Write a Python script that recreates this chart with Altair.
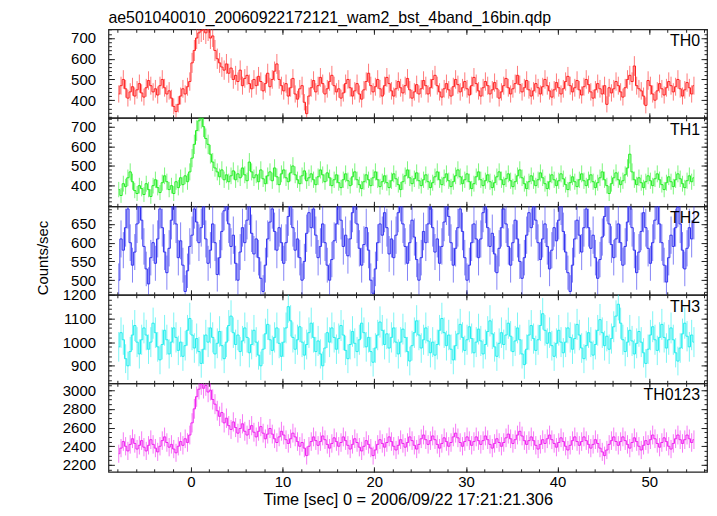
import altair as alt
import pandas as pd

TITLE = "ae501040010_20060922172121_wam2_bst_4band_16bin.qdp"
X_TITLE = "Time [sec] 0 = 2006/09/22 17:21:21.306"
Y_TITLE = "Counts/sec"
T_START = -8.0
BIN = 0.25
X_DOMAIN = [-9.0, 56.3]
X_MAJOR = [0, 10, 20, 30, 40, 50]
X_MINOR = list(range(-8, 57, 2))

NAMES = ["TH0", "TH1", "TH2", "TH3", "TH0123"]
COLORS = ["#ff2020", "#22ee22", "#3030f0", "#22eeee", "#f020f0"]
Y_DOMAINS = [[315, 742], [295, 745], [461, 697], [826, 1200], [2127, 3073]]
Y_MAJOR = [[400, 500, 600, 700], [400, 500, 600, 700], [500, 550, 600, 650],
           [900, 1000, 1100, 1200], [2200, 2400, 2600, 2800, 3000]]
Y_MINOR = [list(range(320, 741, 20)), list(range(300, 741, 20)), list(range(470, 691, 10)),
           list(range(840, 1201, 20)), list(range(2150, 3051, 50))]

TH0 = [
    430, 470, 500, 455, 410, 440, 465, 420, 450, 480, 435, 415,
    460, 495, 470, 440, 455, 425, 470, 500, 460, 430, 445, 410,
    370, 345, 380, 420, 455, 430, 465, 490, 580, 640, 700, 725,
    735, 745, 725, 740, 700, 710, 640, 600, 580, 560, 545, 575,
    530, 555, 500, 520, 490, 545, 470, 505, 520, 480, 455, 500,
    470, 515, 490, 445, 480, 530, 465, 500, 540, 575, 500, 470,
    445, 480, 420, 460, 505, 430, 405, 455, 470, 390, 335, 420,
    460, 495, 440, 470, 510, 480, 430, 455, 490, 520, 470, 440,
    455, 410, 435, 480, 500, 460, 420, 445, 480, 430, 405, 450,
    490, 530, 470, 440, 465, 500, 455, 420, 470, 510, 480, 445,
    420, 455, 490, 460, 435, 470, 505, 450, 410, 440, 475, 430,
    455, 495, 470, 430, 460, 500, 520, 470, 440, 415, 455, 480,
    450, 420, 465, 500, 475, 440, 460, 490, 455, 425, 470, 510,
    480, 445, 420, 460, 490, 470, 430, 450, 485, 455, 410, 440,
    470, 505, 460, 430, 455, 480, 520, 475, 440, 460, 495, 450,
    420, 445, 480, 460, 430, 465, 500, 470, 445, 415, 450, 485,
    460, 430, 455, 490, 515, 470, 440, 460, 495, 450, 425, 465,
    500, 475, 440, 410, 450, 480, 455, 430, 470, 380, 460, 435,
    455, 490, 470, 440, 415, 460, 500, 520, 490, 565, 470, 455,
    445, 420, 375, 495, 470, 430, 400, 445, 480, 455, 425, 460,
    490, 470, 440, 465, 500, 455, 420, 450, 485, 460, 430, 470,
]

TH1 = [
    380, 350, 410, 395, 440, 470, 420, 375, 360, 400, 385, 355,
    410, 380, 345, 400, 430, 390, 365, 415, 450, 420, 380, 400,
    360, 420, 390, 440, 405, 450, 420, 470, 540, 610, 680, 730,
    745, 700, 640, 610, 560, 520, 490, 470, 445, 480, 430, 455,
    420, 450, 475, 430, 460, 440, 490, 455, 425, 520, 470, 440,
    455, 420, 480, 435, 410, 450, 470, 425, 490, 445, 405, 460,
    480, 440, 420, 465, 500, 455, 430, 410, 450, 475, 425, 440,
    460, 430, 405, 445, 480, 455, 420, 465, 440, 400, 430, 455,
    415, 390, 430, 460, 425, 400, 445, 470, 430, 405, 385, 420,
    455, 430, 400, 440, 470, 430, 395, 420, 450, 415, 390, 425,
    460, 435, 405, 380, 420, 450, 480, 440, 410, 435, 465, 425,
    400, 430, 455, 420, 390, 415, 445, 470, 430, 405, 440, 460,
    425, 395, 420, 450, 480, 445, 410, 430, 460, 420, 385, 410,
    445, 470, 430, 400, 425, 455, 420, 390, 415, 445, 470, 430,
    405, 435, 460, 425, 395, 420, 450, 480, 440, 410, 385, 420,
    450, 425, 400, 430, 465, 440, 410, 385, 420, 455, 430, 400,
    425, 460, 435, 405, 380, 415, 445, 420, 395, 430, 460, 425,
    400, 430, 455, 420, 390, 415, 440, 470, 430, 400, 360, 410,
    440, 465, 430, 405, 425, 455, 490, 560, 470, 430, 405, 440,
    415, 390, 420, 450, 425, 400, 435, 460, 430, 405, 380, 415,
    445, 420, 395, 430, 460, 435, 410, 390, 425, 450, 420, 440,
]

TH2 = [
    500, 610, 580, 640, 690, 600, 540, 575, 650, 705, 660, 590,
    530, 490, 560, 600, 545, 610, 690, 640, 575, 520, 585, 660,
    700, 650, 560, 605, 540, 470, 525, 590, 620, 690, 655, 600,
    640, 700, 610, 545, 580, 650, 600, 515, 560, 630, 685, 710,
    650, 590, 620, 545, 500, 575, 640, 600, 660, 700, 625, 570,
    610, 560, 505, 470, 540, 610, 655, 690, 630, 580, 640, 600,
    545, 600, 670, 700, 640, 580, 610, 560, 500, 550, 625, 680,
    640, 690, 620, 560, 590, 650, 600, 540, 500, 555, 605, 650,
    700, 660, 590, 620, 565, 610, 680, 705, 650, 585, 540, 595,
    640, 580, 500, 465, 530, 600, 650, 620, 680, 640, 570, 610,
    560, 620, 680, 710, 650, 590, 545, 600, 660, 615, 555, 500,
    560, 630, 600, 650, 700, 640, 575, 610, 545, 590, 655, 700,
    670, 600, 540, 585, 640, 690, 630, 560, 500, 540, 600, 650,
    610, 560, 610, 680, 705, 640, 590, 625, 570, 520, 585, 640,
    690, 650, 590, 540, 600, 660, 610, 550, 505, 560, 620, 680,
    640, 700, 660, 600, 555, 610, 650, 590, 530, 580, 640, 605,
    660, 700, 630, 575, 520, 470, 540, 610, 660, 620, 575, 640,
    690, 640, 585, 620, 560, 505, 555, 615, 670, 710, 650, 595,
    560, 610, 650, 600, 540, 590, 655, 700, 640, 580, 520, 575,
    630, 680, 640, 585, 545, 600, 660, 700, 650, 600, 540, 495,
    560, 620, 590, 640, 695, 650, 580, 530, 585, 640, 610, 660,
]

TH3 = [
    980, 1040, 1010, 930, 900, 960, 1030, 1070, 1000, 950, 1010, 1060,
    1030, 970, 1000, 1080, 1040, 980, 925, 990, 1050, 1010, 950, 1000,
    1060, 1020, 965, 1000, 940, 985, 1050, 1100, 1030, 975, 1015, 960,
    910, 970, 1030, 1000, 1060, 1020, 950, 995, 1045, 985, 930, 1000,
    1070, 1110, 1040, 990, 1030, 960, 1005, 1060, 1020, 955, 990, 1050,
    1000, 945, 900, 970, 1035, 1075, 1010, 965, 1020, 1060, 995, 940,
    1000, 1060, 1150, 1090, 1020, 970, 1010, 1065, 1000, 945, 990, 1040,
    1080, 1020, 960, 1005, 950, 900, 975, 1040, 1000, 1060, 1020, 970,
    1015, 1070, 1030, 965, 930, 990, 1045, 995, 960, 1010, 1080, 1040,
    980, 1020, 960, 915, 975, 1030, 1085, 1050, 990, 1035, 975, 1020,
    1060, 1000, 950, 1000, 1055, 1020, 960, 920, 985, 1040, 1090, 1030,
    975, 1010, 1060, 1005, 955, 1000, 945, 990, 1050, 1100, 1040, 985,
    1030, 970, 925, 985, 1035, 1075, 1020, 965, 1010, 1065, 1015, 955,
    1000, 1055, 1005, 950, 990, 1045, 1090, 1035, 980, 940, 995, 1040,
    990, 1030, 1080, 1025, 960, 1005, 1060, 1010, 950, 905, 970, 1030,
    1070, 1015, 965, 1010, 1070, 1120, 1050, 995, 1040, 985, 940, 995,
    1050, 1000, 955, 1000, 1060, 1020, 970, 1015, 1075, 1030, 975, 930,
    985, 1040, 1000, 945, 990, 1050, 1095, 1040, 985, 1025, 970, 1015,
    1065, 1110, 1160, 1080, 1010, 960, 1000, 1050, 1005, 950, 995, 1045,
    1000, 955, 910, 970, 1030, 1065, 1010, 965, 1020, 1075, 1020, 975,
    1010, 1060, 1010, 955, 920, 975, 1035, 1080, 1025, 980, 1030, 1000,
]

TH0123 = [
    2320, 2380, 2450, 2400, 2350, 2420, 2480, 2430, 2370, 2410, 2460, 2390,
    2350, 2410, 2470, 2420, 2380, 2340, 2400, 2460, 2500, 2440, 2390, 2420,
    2370, 2330, 2400, 2450, 2410, 2480, 2440, 2520, 2650, 2800, 2930, 3010,
    3060, 3020, 3050, 2980, 3000, 2900, 2850, 2780, 2720, 2760, 2650, 2700,
    2620, 2580, 2660, 2600, 2540, 2590, 2640, 2560, 2520, 2580, 2620, 2550,
    2500, 2560, 2610, 2540, 2480, 2530, 2590, 2530, 2480, 2440, 2500, 2560,
    2520, 2470, 2430, 2480, 2540, 2500, 2450, 2400, 2440, 2380, 2300, 2400,
    2450, 2500, 2460, 2410, 2450, 2510, 2470, 2420, 2380, 2430, 2490, 2450,
    2400, 2440, 2500, 2460, 2410, 2370, 2420, 2480, 2440, 2390, 2350, 2400,
    2460, 2420, 2380, 2300, 2360, 2420, 2470, 2430, 2390, 2440, 2500, 2450,
    2400, 2360, 2410, 2470, 2430, 2390, 2440, 2500, 2460, 2410, 2370, 2420,
    2480, 2520, 2470, 2420, 2460, 2510, 2470, 2420, 2380, 2430, 2490, 2450,
    2400, 2440, 2500, 2540, 2490, 2440, 2400, 2450, 2500, 2460, 2410, 2450,
    2500, 2460, 2420, 2460, 2510, 2470, 2420, 2380, 2430, 2480, 2440, 2400,
    2440, 2490, 2530, 2480, 2430, 2470, 2520, 2560, 2510, 2460, 2420, 2460,
    2500, 2460, 2410, 2370, 2420, 2470, 2430, 2480, 2520, 2470, 2430, 2390,
    2440, 2490, 2450, 2400, 2360, 2410, 2460, 2500, 2450, 2410, 2450, 2500,
    2460, 2420, 2380, 2420, 2470, 2430, 2380, 2340, 2300, 2360, 2420, 2460,
    2500, 2450, 2410, 2450, 2500, 2460, 2420, 2380, 2440, 2490, 2450, 2400,
    2360, 2410, 2460, 2420, 2470, 2520, 2480, 2430, 2390, 2440, 2490, 2450,
    2400, 2370, 2430, 2480, 2520, 2470, 2430, 2470, 2520, 2480, 2440, 2470,
]

SERIES = [TH0, TH1, TH2, TH3, TH0123]

FONT = "Liberation Sans"
W = 602
H = 89


def ax(orient, values, size, labels=False, title=None, label_pad=13, title_pad=10,
       title_size=15, title_anchor=None):
    kw = dict(orient=orient, values=values, tickSize=size, offset=-size,
              domain=False, grid=False, labels=labels, ticks=True,
              tickColor="#222222", tickWidth=1, title=title, minExtent=0)
    if labels:
        kw.update(labelFont=FONT, labelFontSize=15, labelColor="black",
                  labelPadding=label_pad, format="d")
    if title:
        kw.update(titleFont=FONT, titleFontSize=title_size, titleFontWeight="normal",
                  titleColor="black", titlePadding=title_pad)
        if title_anchor:
            kw.update(titleAnchor=title_anchor)
    return alt.Axis(**kw)


def panel(i):
    vals = SERIES[i]
    df = pd.DataFrame({"t": [T_START + BIN * (k + 0.5) for k in range(len(vals))],
                       "v": vals})
    xs = alt.Scale(domain=X_DOMAIN, nice=False, zero=False)
    ys = alt.Scale(domain=Y_DOMAINS[i], nice=False, zero=False)
    last = i == len(NAMES) - 1
    color = COLORS[i]
    base = alt.Chart(df).transform_calculate(
        err="2*sqrt(datum.v)"
    ).transform_calculate(lo="datum.v - datum.err", hi="datum.v + datum.err")

    if last:
        x_major = ax("bottom", X_MAJOR, 5, labels=True, title=X_TITLE, label_pad=3,
                     title_pad=2, title_size=16.5)
    else:
        x_major = ax("bottom", X_MAJOR, 5)
    if i == 2:
        y_major = ax("left", Y_MAJOR[i], 6, labels=True, title=Y_TITLE, title_pad=20,
                     title_anchor="start")
    else:
        y_major = ax("left", Y_MAJOR[i], 6, labels=True)

    bars = base.mark_rule(color=color, strokeWidth=1, opacity=0.6, clip=True).encode(
        x=alt.X("t:Q", scale=xs, axis=x_major),
        y=alt.Y("lo:Q", scale=ys, axis=y_major),
        y2="hi:Q",
    )
    line = base.mark_line(interpolate="step", color=color, strokeWidth=1, clip=True).encode(
        x=alt.X("t:Q", scale=xs, axis=ax("bottom", X_MINOR, 3)),
        y=alt.Y("v:Q", scale=ys, axis=ax("left", Y_MINOR[i], 3)),
    )
    mirror_major = base.mark_point(opacity=0, clip=True).encode(
        x=alt.X("t:Q", scale=xs, axis=ax("top", X_MAJOR, 5)),
        y=alt.Y("v:Q", scale=ys, axis=ax("right", Y_MAJOR[i], 6)),
    )
    mirror_minor = base.mark_point(opacity=0, clip=True).encode(
        x=alt.X("t:Q", scale=xs, axis=ax("top", X_MINOR, 3)),
        y=alt.Y("v:Q", scale=ys, axis=ax("right", Y_MINOR[i], 3)),
    )
    label = alt.Chart(pd.DataFrame({"lab": [NAMES[i]]})).mark_text(
        align="right", baseline="top", font=FONT, fontSize=16, color="black"
    ).encode(text="lab:N", x=alt.value(W - 7), y=alt.value(4))

    layers = [bars, line, mirror_major, mirror_minor, label]
    if i == 0:
        head = alt.Chart(pd.DataFrame({"lab": [TITLE]})).mark_text(
            align="left", baseline="alphabetic", font=FONT, fontSize=16, color="black"
        ).encode(text="lab:N", x=alt.value(0), y=alt.value(-6))
        layers.append(head)

    return alt.layer(*layers).resolve_axis(
        x="independent", y="independent"
    ).properties(width=W, height=H)


chart = alt.vconcat(*[panel(i) for i in range(len(NAMES))], spacing=0, bounds="flush").properties(
    padding={"left": 27, "top": 0, "right": 0, "bottom": 0}
).configure_view(stroke="#222222", strokeWidth=1.2)

chart.save("out.html", embed_options={"renderer": "svg", "actions": False})
